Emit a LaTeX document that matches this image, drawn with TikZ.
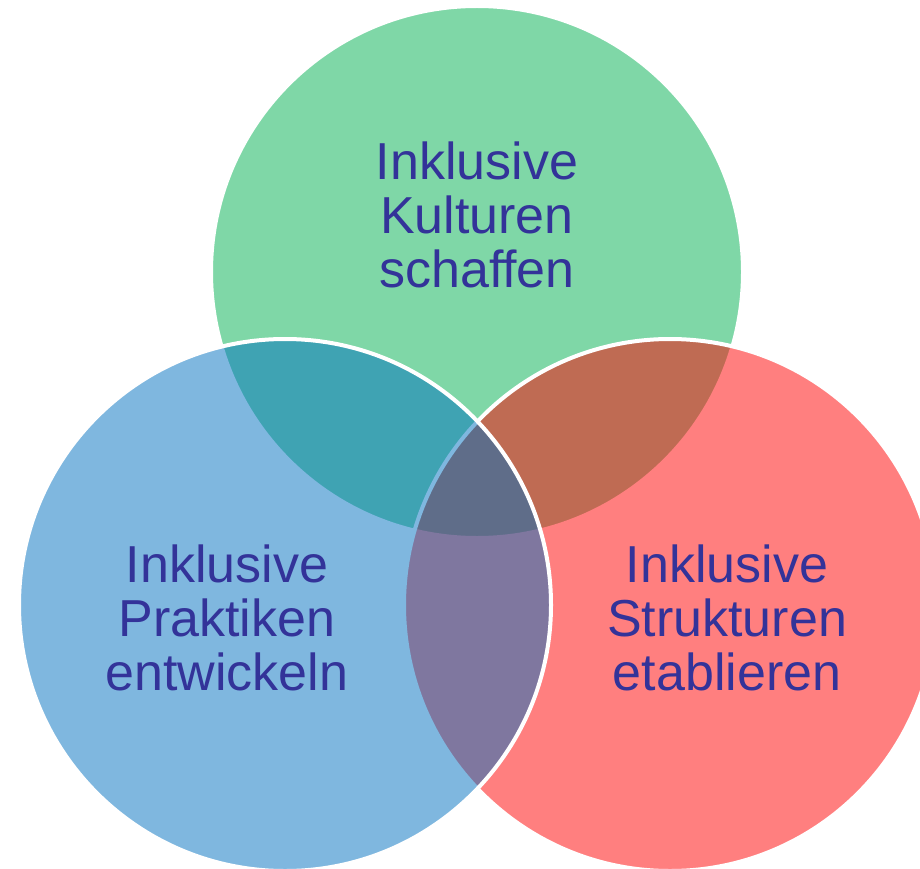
\documentclass[tikz,border=0pt]{standalone}
\usepackage{fontspec}
\setmainfont{Liberation Sans}
\definecolor{cgreen}{RGB}{0,176,80}
\definecolor{cred}{RGB}{255,0,0}
\definecolor{cblue}{RGB}{0,112,192}
\definecolor{ctext}{RGB}{51,51,153}
\begin{document}
\begin{tikzpicture}[x=1pt,y=-1pt,
  venn/.style={draw=white, line width=4pt, fill opacity=0.5},
  vennlabel/.style={text=ctext, align=center, font=\fontsize{52}{54}\selectfont, inner sep=0pt}]
\useasboundingbox (0,0) rectangle (920,869);
\clip (0,0) rectangle (920,869);
\fill[white] (0,0) rectangle (920,869);
\path[venn, fill=cgreen] (477,272) circle[radius=266];
\path[venn, fill=cred] (670,605) circle[radius=266];
\path[venn, fill=cblue] (285,605) circle[radius=266];
\node[vennlabel] (kult) at (477,215.4) {Inklusive\\Kulturen\\schaffen};
\node[vennlabel] (prak) at (227,618.4) {Inklusive\\Praktiken\\entwickeln};
\node[vennlabel] (stru) at (727,618.4) {Inklusive\\Strukturen\\etablieren};
\end{tikzpicture}
\end{document}
